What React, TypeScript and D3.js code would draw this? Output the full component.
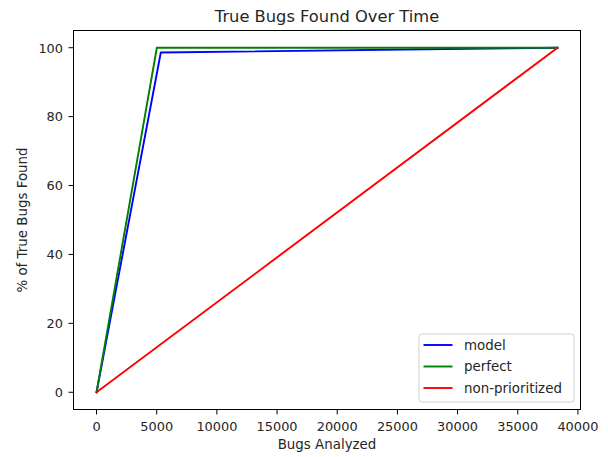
import React from "react";
import * as d3 from "d3";

const title = "True Bugs Found Over Time";
const xLabel = "Bugs Analyzed";
const yLabel = "% of True Bugs Found";
const xTicks = [0, 5000, 10000, 15000, 20000, 25000, 30000, 35000, 40000];
const yTicks = [0, 20, 40, 60, 80, 100];

const modelX = [0, 5340, 38300];
const modelY = [0, 98.6, 100];
const perfectX = [0, 5010, 38300];
const perfectY = [0, 100, 100];
const nonPrioX = [0, 38300];
const nonPrioY = [0, 100];

const seriesNames = ["model", "perfect", "non-prioritized"];
const seriesColors = ["#0000ff", "#008000", "#ff0000"];

const W = 608, H = 457;
const left = 73.5, right = 580.5, top = 30.5, bottom = 409.5;
const font = "DejaVu Sans, sans-serif";
const tickFs = 12.9;
const labelFs = 13.4;

export default function App() {
  const xMax = 38300;
  const x = d3.scaleLinear().domain([-0.05 * xMax, 1.05 * xMax]).range([left, right]);
  const y = d3.scaleLinear().domain([-5, 105]).range([bottom, top]);
  const line = d3.line<[number, number]>().x(d => x(d[0])).y(d => y(d[1]));
  const series = [
    modelX.map((v, i) => [v, modelY[i]] as [number, number]),
    perfectX.map((v, i) => [v, perfectY[i]] as [number, number]),
    nonPrioX.map((v, i) => [v, nonPrioY[i]] as [number, number]),
  ];
  const lgX = 419, lgY = 334, lgW = 155, lgH = 68;
  return (
    <svg width={W} height={H} style={{ position: "absolute", left: 0, top: 0, background: "#fff" }} fontFamily={font}>
      <rect x={0} y={0} width={W} height={H} fill="#fff" />
      <clipPath id="clip"><rect x={left} y={top} width={right - left} height={bottom - top} /></clipPath>
      <g clipPath="url(#clip)">
        {series.map((s, i) => (
          <path key={i} d={line(s) || ""} fill="none" stroke={seriesColors[i]} strokeWidth={1.9} strokeLinejoin="round" strokeLinecap="square" />
        ))}
      </g>
      <rect x={left} y={top} width={right - left} height={bottom - top} fill="none" stroke="#000" strokeWidth={1} />
      {xTicks.map(t => (
        <g key={t}>
          <line x1={x(t)} x2={x(t)} y1={bottom} y2={bottom + 5} stroke="#000" strokeWidth={1} />
          <text x={x(t)} y={430.5} textAnchor="middle" fontSize={tickFs} fill="#262626">{t}</text>
        </g>
      ))}
      {yTicks.map(t => (
        <g key={t}>
          <line x1={left - 5} x2={left} y1={y(t)} y2={y(t)} stroke="#000" strokeWidth={1} />
          <text x={left - 10.5} y={y(t) + 4.8} textAnchor="end" fontSize={tickFs} fill="#262626">{t}</text>
        </g>
      ))}
      <text x={(left + right) / 2} y={22} textAnchor="middle" fontSize={16.3} fill="#262626">{title}</text>
      <text x={(left + right) / 2} y={449} textAnchor="middle" fontSize={labelFs} fill="#262626">{xLabel}</text>
      <text transform={`translate(26.5,${(top + bottom) / 2}) rotate(-90)`} textAnchor="middle" fontSize={labelFs} fill="#262626">{yLabel}</text>
      <rect x={lgX} y={lgY} width={lgW} height={lgH} rx={2.5} fill="#fff" fillOpacity={0.8} stroke="#d0d0d0" strokeWidth={1} />
      {seriesNames.map((n, i) => (
        <g key={n}>
          <line x1={423.5} x2={452.5} y1={345 + i * 21.5} y2={345 + i * 21.5} stroke={seriesColors[i]} strokeWidth={1.9} />
          <text x={464} y={345 + i * 21.5 + 4.8} fontSize={labelFs} fill="#262626">{n}</text>
        </g>
      ))}
    </svg>
  );
}
